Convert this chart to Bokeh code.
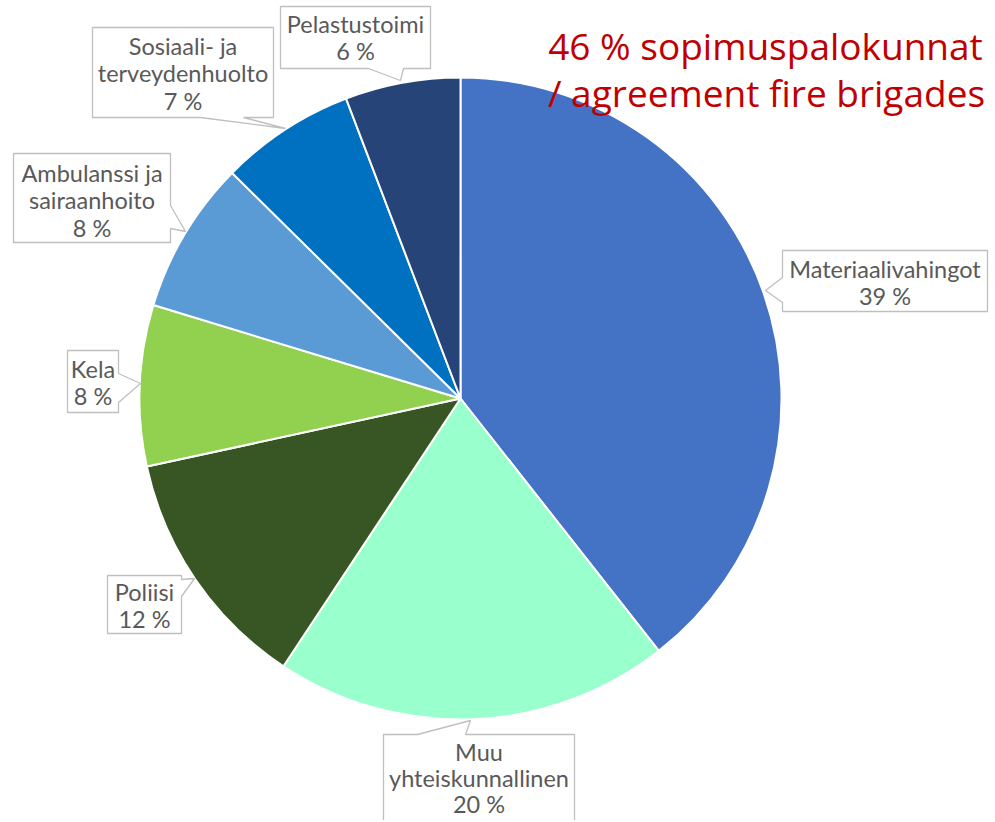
import numpy as np
from bokeh.plotting import figure
from bokeh.models import Range1d
from bokeh.core.properties import value
from bokeh.embed import file_html
from bokeh.resources import INLINE

# ---- data ----
categories = ["Materiaalivahingot", "Muu yhteiskunnallinen", "Poliisi", "Kela",
              "Ambulanssi ja sairaanhoito", "Sosiaali- ja terveydenhuolto", "Pelastustoimi"]
label_lines = [["Materiaalivahingot"], ["Muu", "yhteiskunnallinen"], ["Poliisi"], ["Kela"],
               ["Ambulanssi ja", "sairaanhoito"], ["Sosiaali- ja", "terveydenhuolto"], ["Pelastustoimi"]]
shares = [39.4, 19.9, 12.3, 8.1, 7.7, 6.8, 5.8]
colors = ["#4472C4", "#99FFCC", "#375623", "#92D050", "#5B9BD5", "#0070C0", "#264478"]
note_lines = ["46 % sopimuspalokunnat", "/ agreement fire brigades"]

# ---- layout (screenshot pixel coordinates) ----
W, H = 990, 820
def ix(x): return x
def iy(y): return H - y

CX, CY, R = 460, 398, 321
# callouts: box (x0, y0, x1, y1), side, pointer base (b0, b1), tip (tx, ty), first text line y, line height
callouts = [
    ((782, 250, 987, 311), "left", (277, 302), (765, 290), 268, 27.5),
    ((383, 734, 574, 840), "top", (417, 465), (470, 720), 751, 26.0),
    ((107, 575, 181, 633), "right", (579, 596), (194, 578), 591, 27.5),
    ((67, 350, 118, 412), "right", (373, 402), (140, 383), 368, 27.5),
    ((13, 153, 170, 242), "right", (205, 228), (185, 231), 172, 27.5),
    ((92, 27, 273, 117), "bottom", (200, 243), (285, 128), 45, 27.5),
    ((280, 6, 430, 68), "bottom", (368, 403), (400, 80), 23, 27.5),
]

p = figure(width=W, height=H, output_backend="svg", toolbar_location=None,
           x_range=Range1d(0, W), y_range=Range1d(0, H), min_border=0)
p.axis.visible = False
p.grid.visible = False
p.outline_line_color = None
p.background_fill_color = "white"

fr = np.cumsum([0] + shares) / sum(shares)
starts = np.pi / 2 - 2 * np.pi * fr[:-1]
ends = np.pi / 2 - 2 * np.pi * fr[1:]
p.wedge(x=ix(CX), y=iy(CY), radius=R, start_angle=starts, end_angle=ends,
        direction="clock", fill_color=colors, line_color="white", line_width=2)

def callout_poly(box, side, base, tip):
    x0, y0, x1, y1 = box
    b0, b1 = base
    tx, ty = tip
    if side == "left":
        pts = [(x0, y0), (x1, y0), (x1, y1), (x0, y1), (x0, b1), (tx, ty), (x0, b0)]
    elif side == "right":
        pts = [(x0, y0), (x1, y0), (x1, b0), (tx, ty), (x1, b1), (x1, y1), (x0, y1)]
    elif side == "top":
        pts = [(x0, y0), (b0, y0), (tx, ty), (b1, y0), (x1, y0), (x1, y1), (x0, y1)]
    else:
        pts = [(x0, y0), (x1, y0), (x1, y1), (b1, y1), (tx, ty), (b0, y1), (x0, y1)]
    return [ix(a) for a, b in pts], [iy(b) for a, b in pts]

xs, ys = [], []
tx_, ty_, tt = [], [], []
for (box, side, base, tip, ly, lh), lines, v in zip(callouts, label_lines, shares):
    px, py = callout_poly(box, side, base, tip)
    xs.append(px); ys.append(py)
    cx = (box[0] + box[2]) / 2
    all_lines = lines + [f"{round(v)} %"]
    for k, t in enumerate(all_lines):
        tx_.append(ix(cx)); ty_.append(iy(ly + k * lh)); tt.append(t)

p.patches(xs, ys, fill_color="white", line_color="#BFBFBF", line_width=1.3)
p.text(x=tx_, y=ty_, text=tt, text_align="center", text_baseline="middle",
       text_font=value("Lato"), text_font_size="23.5px", text_color="#595959")

p.text(x=[ix(765), ix(766)], y=[iy(45), iy(92)], text=note_lines, text_align="center",
       text_baseline="alphabetic", text_font=value("Open Sans"), text_font_size="37px",
       text_color="#C00000")

open("out.html", "w").write(file_html(p, INLINE))
